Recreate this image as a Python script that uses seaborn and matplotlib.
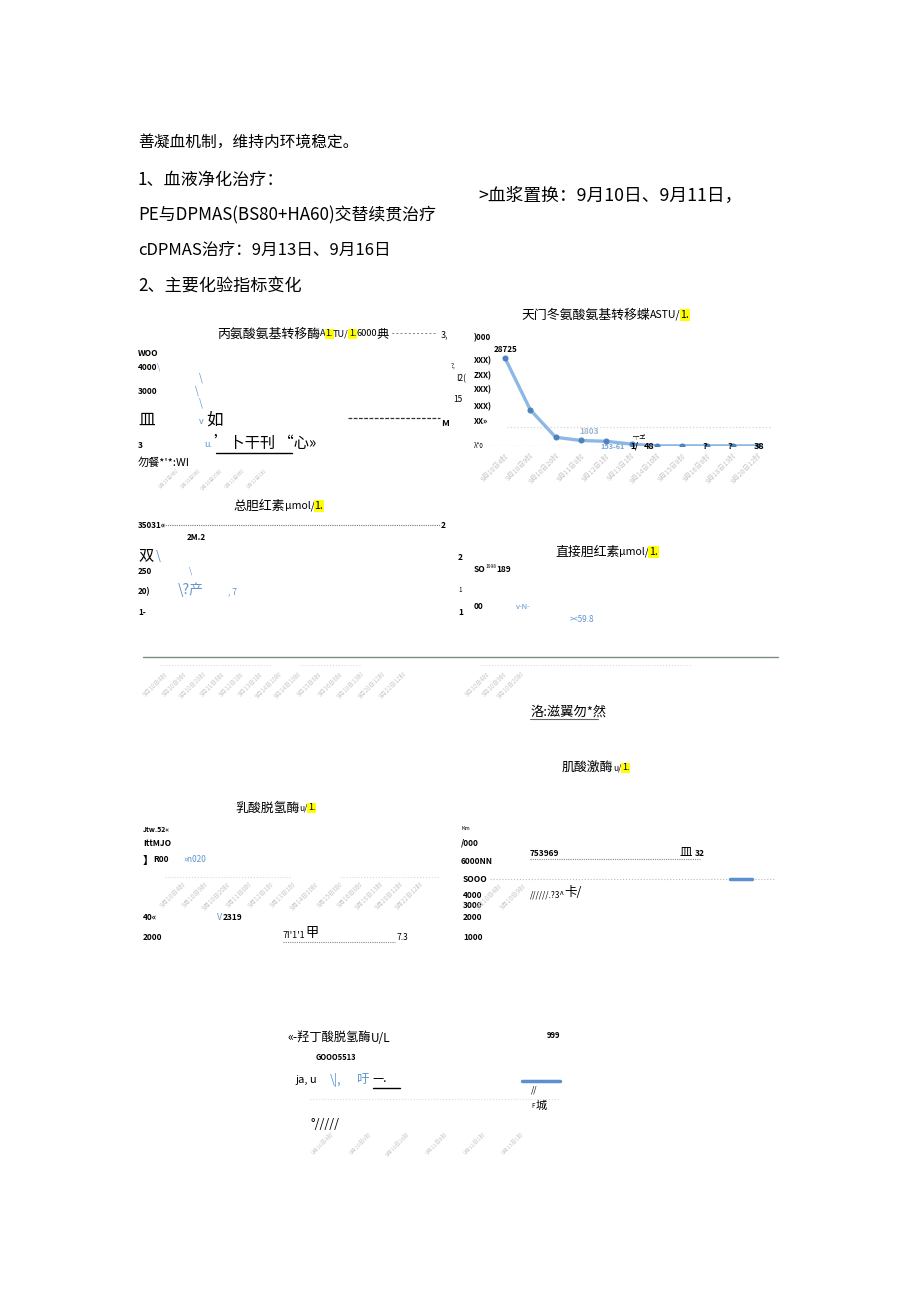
import numpy as np
import pandas as pd
import matplotlib
matplotlib.use("Agg")
import matplotlib.pyplot as plt
from matplotlib.lines import Line2D
import seaborn as sns

sns.set_theme(style="white")
plt.rcParams["font.family"] = ["Noto Sans CJK SC", "DejaVu Sans"]

# ---------------- data ----------------
ast_times = ["9月10日4时", "9月10日9时", "9月10日20时", "9月11日8时", "9月12日1时",
             "9月13日1时", "9月14日10时", "9月15日8时", "9月16日8时", "9月18日13时",
             "9月20日12时"]
ast_values = [28725, 11800, 2860, 1803, 1536, 617, 48, 46, 43, 40, 38]
faint_dates = ast_times + ["9月22日12时"]

W, H = 920, 1301
fig = plt.figure(figsize=(9.2, 13.01), dpi=100)
fig.patch.set_facecolor("white")
renderer = fig.canvas.get_renderer()

BLUE = "#5f95cf"
FAINT = "#c9c9c9"


def fx(x):
    return x / W


def fy(y):
    return 1 - y / H


def txt(x, y, s, size=6.5, color="black", weight="normal", ha="left", va="center",
        rot=0, style="normal", hl=False):
    t = fig.text(fx(x), fy(y), s, fontsize=size, color=color, fontweight=weight,
                 ha=ha, va=va, rotation=rot, fontstyle=style)
    if hl:
        t.set_bbox(dict(facecolor="#ffff00", edgecolor="none", pad=0.6))
    return t


def seq(x, y, pieces, size=9.3):
    for p in pieces:
        s = p[0]
        opts = dict(p[1]) if len(p) > 1 else {}
        opts.setdefault("size", size)
        t = txt(x, y, s, **opts)
        x += t.get_window_extent(renderer).width
    return x


def hline(x0, x1, y, color="black", lw=0.8, ls="-"):
    fig.add_artist(Line2D([fx(x0), fx(x1)], [fy(y), fy(y)], transform=fig.transFigure,
                          color=color, lw=lw, ls=ls))


def faint_group(x0, y0, n, dx, start=0, size=4.8):
    for i in range(n):
        txt(x0 + i * dx, y0, faint_dates[(start + i) % len(faint_dates)], size=size,
            color=FAINT, ha="right", va="top", rot=45)


LAT = {"size": 7.6}
HL = {"size": 7.6, "hl": True}
LAT_S = {"size": 6.6}
HL_S = {"size": 6.6, "hl": True}

# ---------------- body text ----------------
txt(138, 142, "善凝血机制，维持内环境稳定。", size=11.3)
txt(138, 180, "1、血液净化治疗：", size=12.3)
txt(138, 215, "PE与DPMAS(BS80+HA60)交替续贯治疗", size=12.2)
txt(478, 196, ">血浆置换：9月10日、9月11日，", size=12.8)
txt(138, 250, "cDPMAS治疗：9月13日、9月16日", size=12)
txt(138, 287, "2、主要化验指标变化", size=12.3)

# ---------------- ALT (top left) ----------------
seq(217, 334, [("丙氨酸氨基转移酶",), ("A", LAT_S), ("1.", HL_S), ("TU/", LAT_S), ("1.", HL_S),
               ("6000", LAT_S), ("典", {"size": 8.8})])
txt(392, 334, "- - - - - - - - - - -", size=5.3)
txt(441, 335, "3,", size=6.5)
for y, s in [(354, "WOO"), (367, "4000"), (391, "3000"), (445, "3")]:
    txt(138, y, s, weight="bold", size=6)
txt(157, 367, "\\", color=BLUE, size=6)
txt(138, 420, "皿", size=12)
seq(138, 463, [("勿餐*'*:WI", {"size": 8})])
for x, y in [(199, 378), (195, 391), (199, 403)]:
    txt(x, y, "\\", color=BLUE, size=7)
txt(199, 422, "v", color=BLUE, size=6.5)
txt(206, 420, "如", size=12)
txt(204, 444, "u.", color=BLUE, size=6.5)
txt(214, 443, "’卜干刊 “心»", size=11)
hline(216, 292, 453, lw=1.0)
txt(451, 366, "?,", size=4.5)
txt(456, 379, "I2(", size=6)
txt(453, 400, "15", size=6)
hline(348, 440, 418, color="#333333", lw=0.9, ls=(0, (3, 1.2)))
txt(441, 424, "M", weight="bold", size=6.5)
faint_group(180, 468, 5, 22, size=3.6)

# ---------------- AST (top right, real line chart) ----------------
ast_df = pd.DataFrame({"time": ast_times, "value": ast_values})
ax = fig.add_axes([fx(478), fy(446), (771 - 478) / W, 110 / H])
ax.axhline(0, color="#bfbfbf", lw=0.9, ls=":", zorder=0)
ax.axhline(6200, xmin=0.1, color="#d5d5d5", lw=0.9, ls=":", zorder=0)
sns.lineplot(data=ast_df, x="time", y="value", ax=ax, sort=False, color="#8cb8e6",
             lw=2.4, marker="o", markersize=3.6, markerfacecolor="#4f81bd",
             markeredgecolor="#4f81bd")
ax.set_xlim(-1.07, 10.51)
ax.set_ylim(0, 36000)
ax.set_xlabel("")
ax.set_ylabel("")
ax.set_yticks([])
ax.set_xticks(range(len(ast_times)))
ax.set_xticklabels(ast_times, rotation=45, ha="right", va="top", rotation_mode="anchor",
                   fontsize=5, color="#c4c4c4")
ax.tick_params(axis="x", length=0, pad=4)
for s in ax.spines.values():
    s.set_visible(False)
ax.patch.set_alpha(0)

seq(521, 315, [("天门冬氨酸氨基转移蝶",), ("ASTU/", LAT), ("1.", HL)])
for y, s in [(338, ")000"), (361, "XXX)"), (376, "ZXX)"), (390, "XXX)"), (407, "XXX)"),
             (422, "XX»")]:
    txt(474, y, s, weight="bold", size=5.8)
txt(474, 446, "λ*0", size=4.5)
txt(494, 349, "28725", weight="bold", size=5.8)
txt(579, 432, "1803", color="#9fb3cc", weight="bold", size=6)
txt(600, 446, "153-61", color="#7ea6d6", weight="bold", size=5.3)
txt(630, 446, "1/", weight="bold", size=6)
txt(633, 437, "┬ヹ", size=4.5)
txt(644, 446, "48", weight="bold", size=6.5)
txt(703, 446, "?", weight="bold", size=6.5)
txt(728, 446, "?", weight="bold", size=6.5)
txt(754, 446, "38", weight="bold", size=6.5)

# ---------------- TBIL (middle left) ----------------
seq(233, 506, [("总胆红素",), ("μmol/", LAT), ("1.", HL)])
txt(138, 525, "35031«", weight="bold", size=5.8)
hline(163, 440, 525, color="#777777", lw=0.8, ls=(0, (1, 1)))
txt(441, 525, "2", weight="bold", size=6)
txt(187, 538, "2M.2", weight="bold", size=5.8)
txt(138, 556, "双", size=11)
txt(156, 556, "\\", color=BLUE, size=9)
txt(138, 572, "250", weight="bold", size=5.8)
txt(189, 571, "\\", color=BLUE, size=6)
txt(138, 592, "20)", weight="bold", size=5.8)
txt(178, 590, "\\?产", color=BLUE, size=10)
txt(228, 592, ", 7", color=BLUE, size=6)
txt(138, 613, "1-", weight="bold", size=5.8)

# ---------------- DBIL (middle right) ----------------
seq(555, 552, [("直接胆红素",), ("μmol/", LAT), ("1.", HL)])
txt(458, 558, "2", weight="bold", size=6)
seq(474, 569, [("SO", {"weight": "bold", "size": 6}), ("1998", {"size": 3.5, "va": "bottom"}),
               ("189", {"weight": "bold", "size": 6})])
txt(458, 590, "1", size=4.5)
txt(474, 607, "00", weight="bold", size=6)
txt(458, 613, "1", weight="bold", size=6)
txt(516, 607, "v-N-", color=BLUE, size=5.5)
txt(570, 620, "><59.8", color=BLUE, size=5.8)

hline(143, 778, 657, color="#7f8f7f", lw=1.0)
hline(160, 270, 665, color="#dddddd", lw=0.8, ls=":")
hline(300, 360, 665, color="#dddddd", lw=0.8, ls=":")
hline(480, 690, 665, color="#dddddd", lw=0.8, ls=":")
faint_group(170, 670, 7, 19, size=4.4)
faint_group(303, 670, 6, 21, start=6, size=4.4)
faint_group(492, 670, 3, 17, size=4.4)
txt(530, 712, "洛:滋翼勿*然", size=9.5)
hline(530, 598, 719, color="#666666", lw=0.8)

# ---------------- LDH (lower left) ----------------
seq(235, 808, [("乳酸脱氢酶",), ("u/", {"size": 6}), ("1.", {"hl": True, "size": 6.5})])
txt(143, 830, "Jtw.52«", weight="bold", size=5)
txt(143, 843, "IttMJO", weight="bold", size=6)
txt(143, 860, "】", weight="bold", size=8)
txt(153, 860, "R00", weight="bold", size=6)
txt(183, 860, "»n020", color=BLUE, size=6)
hline(165, 290, 877, color="#d8d8d8", lw=0.8, ls=":")
hline(340, 440, 877, color="#d8d8d8", lw=0.8, ls=":")
faint_group(188, 880, 7, 22, size=4.6)
faint_group(345, 880, 5, 20, start=7, size=4.6)
txt(143, 918, "40«", weight="bold", size=6)
txt(217, 918, "V", color=BLUE, size=6.5)
txt(223, 918, "2319", weight="bold", size=6)
txt(143, 937, "2000", weight="bold", size=6)
txt(283, 935, "7I'1'1", size=6.5)
txt(305, 933, "甲", size=9.5)
hline(283, 395, 942, color="#888888", lw=0.8, ls=(0, (1, 1)))
txt(397, 937, "7.3", size=6)

# ---------------- CK (lower right) ----------------
seq(562, 768, [("肌酸激酶",), ("u/", {"size": 6}), ("1.", {"hl": True, "size": 6.5})])
txt(461, 829, "Km", size=4)
txt(461, 843, "/000", weight="bold", size=6)
txt(461, 861, "6000NN", weight="bold", size=6)
txt(530, 854, "753969", weight="bold", size=6)
txt(680, 852, "皿", size=9)
txt(695, 854, "32", weight="bold", size=6)
hline(530, 700, 859, color="#888888", lw=0.8, ls=(0, (1, 1)))
txt(463, 880, "SOOO", weight="bold", size=6)
hline(490, 775, 879, color="#bbbbbb", lw=0.8, ls=":")
hline(730, 752, 879, color="#5b8fd0", lw=2.5)
txt(463, 895, "4000", weight="bold", size=6)
txt(530, 895, "//////.?3^", style="italic", size=6)
txt(564, 893, "卡/", size=9)
txt(463, 906, "3000", weight="bold", size=6)
txt(463, 918, "2000", weight="bold", size=6)
txt(463, 937, "1000", weight="bold", size=6)
faint_group(504, 882, 2, 24, size=4.6)

# ---------------- HBDH (bottom) ----------------
seq(287, 1038, [("«-羟丁酸脱氢酶",), ("U/L", {"size": 8.5})], size=8.8)
txt(547, 1036, "999", weight="bold", size=5.5)
txt(316, 1058, "GOOO5513", weight="bold", size=5.5)
txt(295, 1080, "ja, u", style="italic", size=8)
txt(330, 1080, "\\|,", color=BLUE, size=9)
txt(356, 1079, "吁", color=BLUE, size=9)
txt(372, 1078, "—.", size=9)
hline(373, 400, 1088, lw=1.0)
hline(522, 560, 1081, color="#5b8fd0", lw=2.5)
hline(310, 560, 1099, color="#dddddd", lw=0.8, ls=":")
txt(531, 1090, "//", size=6)
txt(531, 1106, "F", size=4.5)
txt(536, 1106, "城", size=8)
txt(311, 1124, "°/////", style="italic", size=9)
faint_group(335, 1132, 6, 38, size=4.0)

fig.savefig("out.png", dpi=100, facecolor="white")
